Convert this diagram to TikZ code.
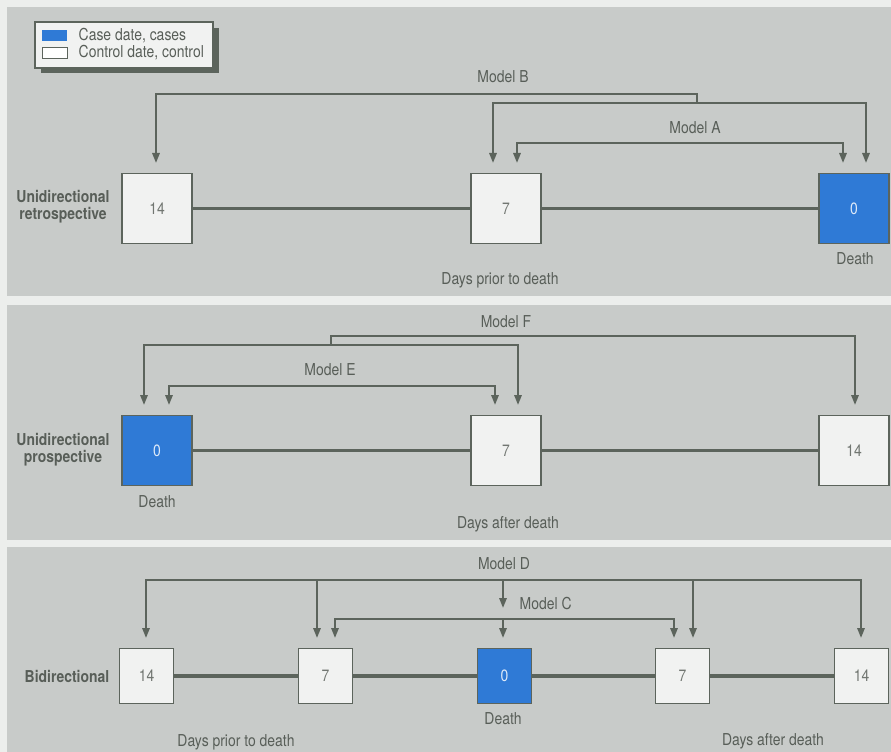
\documentclass[tikz,border=0pt]{standalone}
\usepackage{fontspec}
\setmainfont{TeX Gyre Heros}[FakeStretch=0.85]
\usetikzlibrary{arrows.meta}

\definecolor{panelgray}{RGB}{200,203,201}
\definecolor{edgegray}{RGB}{236,238,236}
\definecolor{linegray}{RGB}{92,100,92}
\definecolor{textgray}{RGB}{88,94,88}
\definecolor{casebl}{RGB}{47,122,214}
\definecolor{boxwhite}{RGB}{241,242,241}

\begin{document}
\begin{tikzpicture}[x=0.75pt, y=-0.75pt, font=\fontsize{12.3}{13}\selectfont, text=textgray]
		\tikzstyle{day} = [draw=linegray, line width=0.8pt, fill=boxwhite, minimum width=52.5pt, minimum height=53pt, text=textgray!85]
		\tikzstyle{case} = [day, fill=casebl, text=white!85!casebl]
		\tikzstyle{small} = [minimum width=41pt, minimum height=41pt]
		\tikzstyle{time} = [draw=linegray, line width=2.4pt]
		\tikzstyle{model} = [draw=linegray, line width=1.5pt, -{Triangle[length=7.5pt,width=5.5pt]}]
		\tikzstyle{both} = [model, {Triangle[length=7.5pt,width=5.5pt]}-{Triangle[length=7.5pt,width=5.5pt]}]
		\tikzstyle{side} = [align=center, font=\fontsize{12.3}{13}\selectfont\bfseries]

		\useasboundingbox (0,0) rectangle (891,752);
		\fill[edgegray] (0,0) rectangle (891,752);
		\fill[panelgray] (7,7) rectangle (891,296);
		\fill[panelgray] (7,305) rectangle (891,540);
		\fill[panelgray] (7,547) rectangle (891,752);

		\fill[linegray] (41,28) rectangle (219,73);
		\draw[linegray, line width=0.8pt, fill=boxwhite] (35,22) rectangle (213,68);
		\fill[casebl] (42,30) rectangle (67,41);
		\draw[linegray, line width=0.6pt, fill=white] (42,47) rectangle (67,58);
		\node[anchor=west] (key1) at (74,36) {Case date, cases};
		\node[anchor=west] (key2) at (74,53) {Control date, control};

		\node[side] (s1) at (63,207) {Unidirectional\\retrospective};
		\node[day] (r14) at (157,208.5) {14};
		\node[day] (r7) at (506,208.5) {7};
		\node[case] (r0) at (854,208.5) {0};
		\draw[time] (r14) -- (r7) -- (r0);
		\node (r0d) at (855,259) {Death};
		\node (rdays) at (500,280) {Days prior to death};

		\coordinate (tB1) at (156,163);
		\coordinate (tB2) at (493,163);
		\coordinate (tB3) at (866,163);
		\coordinate (jB) at (697,103);
		\draw[model] (jB) -- ++(0,-9) -| (tB1);
		\draw[both] (tB2) |- (jB) -| (tB3);
		\node (mB) at (503,77) {Model B};
		\coordinate (tA1) at (517,163);
		\coordinate (tA2) at (843,163);
		\draw[both] (tA1) -- ++(0,-20) -| (tA2);
		\node (mA) at (695,128) {Model A};

		\node[side] (s2) at (63,450) {Unidirectional\\prospective};
		\node[case] (p0) at (157,450.5) {0};
		\node[day] (p7) at (506,450.5) {7};
		\node[day] (p14) at (854,450.5) {14};
		\draw[time] (p0) -- (p7) -- (p14);
		\node (p0d) at (157,502) {Death};
		\node (pdays) at (508,524) {Days after death};

		\coordinate (tF1) at (144,405);
		\coordinate (tF2) at (518,405);
		\coordinate (tF3) at (855,405);
		\coordinate (jF) at (331,345);
		\draw[both] (tF1) |- (jF) -| (tF2);
		\draw[model] (jF) -- ++(0,-9) -| (tF3);
		\node (mF) at (506,322) {Model F};
		\coordinate (tE1) at (169,405);
		\coordinate (tE2) at (495,405);
		\draw[both] (tE1) -- ++(0,-19) -| (tE2);
		\node (mE) at (330,370) {Model E};

		\node[side] (s3) at (67,676) {Bidirectional};
		\node[day, small] (d14) at (146.5,676) {14};
		\node[day, small] (d7) at (325.5,676) {7};
		\node[case, small] (d0) at (504.5,676) {0};
		\node[day, small] (e7) at (682.5,676) {7};
		\node[day, small] (e14) at (861.5,676) {14};
		\draw[time] (d14) -- (d7) -- (d0) -- (e7) -- (e14);
		\node (d0d) at (503,719) {Death};
		\node (ddays) at (236,742) {Days prior to death};
		\node (edays) at (773,741) {Days after death};

		\coordinate (tD1) at (146,638);
		\coordinate (tD2) at (317,638);
		\coordinate (tD3) at (503,608);
		\coordinate (tD4) at (693,638);
		\coordinate (tD5) at (861,638);
		\coordinate (jD) at (503,580);
		\draw[both] (tD1) |- (jD) -| (tD5);
		\draw[model] (tD2 |- jD) -- (tD2);
		\draw[model] (tD4 |- jD) -- (tD4);
		\draw[model] (jD) -- (tD3);
		\node (mD) at (504,564) {Model D};
		\coordinate (tC1) at (335,638);
		\coordinate (tC2) at (503,638);
		\coordinate (tC3) at (674,638);
		\draw[both] (tC1) -- ++(0,-19) -| (tC3);
		\draw[model] (tC2) ++(0,-19) -- (tC2);
		\node[anchor=west] (mC) at (515,604) {Model C};
\end{tikzpicture}
\end{document}
